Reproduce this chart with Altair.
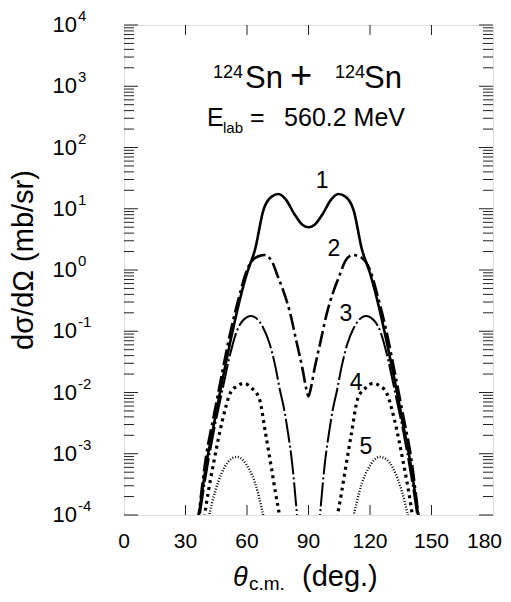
import altair as alt
import pandas as pd

# ---- data ----
c1_theta = [34, 36.5, 40, 44, 48, 52, 56, 60, 64, 68, 72, 75.4, 79, 83, 87, 90,
            93, 97, 101, 104.6, 108, 112, 116, 120, 124, 128, 132, 136, 140, 143.5, 146]
c1_vals = [3.2e-5, 1.0e-4, 6.3e-4, 3.2e-3, 1.6e-2, 7.1e-2, 0.28, 0.89, 2.2, 9.5, 15.8, 17.4, 14.1, 8.3, 5.5, 5.0,
           5.5, 8.3, 14.1, 17.4, 15.8, 9.5, 2.2, 0.89, 0.28, 7.1e-2, 1.6e-2, 3.2e-3, 6.3e-4, 1.0e-4, 3.2e-5]

c2_theta = [34, 36, 40, 44, 48, 52, 56, 60, 64, 68.5, 72, 75, 77.6, 81, 84, 87, 89, 90,
            91, 93, 96, 99, 102.4, 105, 108, 111.5, 116, 120, 124, 128, 132, 136, 140, 144, 146]
c2_vals = [2.5e-5, 7.9e-5, 8.9e-4, 4.5e-3, 2.2e-2, 0.10, 0.35, 1.0, 1.58, 1.76, 1.41, 0.79, 0.47, 0.20, 7.1e-2, 2.5e-2, 1.12e-2, 8.7e-3,
           1.12e-2, 2.5e-2, 7.1e-2, 0.20, 0.47, 0.79, 1.41, 1.76, 1.58, 1.0, 0.35, 0.10, 2.2e-2, 4.5e-3, 8.9e-4, 7.9e-5, 2.5e-5]

c3_theta = [35, 37, 40, 44, 48, 52, 55, 58, 62, 65, 68, 71, 74, 76, 78, 80, 82, 84, 85.5, 90,
            94.5, 96, 98, 100, 102, 104, 106, 109, 112, 115, 118, 122, 125, 128, 132, 136, 140, 143, 145]
c3_vals = [3.2e-5, 1.0e-4, 4.5e-4, 2.5e-3, 1.1e-2, 4.5e-2, 0.10, 0.15, 0.178, 0.158, 0.112, 6.3e-2, 2.5e-2, 1.12e-2, 5.6e-3, 2.2e-3, 7.1e-4, 1.4e-4, 3.2e-5, 1e-6,
           3.2e-5, 1.4e-4, 7.1e-4, 2.2e-3, 5.6e-3, 1.12e-2, 2.5e-2, 6.3e-2, 0.112, 0.158, 0.178, 0.15, 0.10, 4.5e-2, 1.1e-2, 2.5e-3, 4.5e-4, 1.0e-4, 3.2e-5]

c4_theta = [37, 38.5, 40, 44, 48, 52, 55, 58.5, 62, 66, 69, 72, 74, 76, 78, 90,
            102, 104, 106, 108, 111, 114, 118, 121.5, 125, 128, 132, 136, 140, 141.5, 143]
c4_vals = [3.2e-5, 6.3e-5, 1.4e-4, 7.9e-4, 3.5e-3, 1.0e-2, 1.26e-2, 1.41e-2, 1.2e-2, 7.9e-3, 2.2e-3, 5.6e-4, 2.2e-4, 8.9e-5, 2.0e-5, 1e-6,
           2.0e-5, 8.9e-5, 2.2e-4, 5.6e-4, 2.2e-3, 7.9e-3, 1.2e-2, 1.41e-2, 1.26e-2, 1.0e-2, 3.5e-3, 7.9e-4, 1.4e-4, 6.3e-5, 3.2e-5]

c5_theta = [40, 41, 43, 46, 49, 52, 55.3, 58, 61, 64, 66.5, 68.5, 70, 90,
            110, 111.5, 113.5, 116, 119, 122, 124.7, 128, 131, 134, 137, 139, 140]
c5_vals = [5.0e-5, 7.9e-5, 1.6e-4, 3.5e-4, 6.0e-4, 8.1e-4, 8.9e-4, 7.9e-4, 5.6e-4, 3.3e-4, 1.6e-4, 7.9e-5, 4.0e-5, 1e-6,
           4.0e-5, 7.9e-5, 1.6e-4, 3.3e-4, 5.6e-4, 7.9e-4, 8.9e-4, 8.1e-4, 6.0e-4, 3.5e-4, 1.6e-4, 7.9e-5, 5.0e-5]

curve_names = ["1", "2", "3", "4", "5"]
label_theta = [96.6, 102.4, 108.3, 113.2, 118.0]
label_vals = [28, 2.2, 0.19, 0.0145, 1.3e-3]

x_ticks = [0, 30, 60, 90, 120, 150, 180]
x_tick_labels = ["0", "30", "60", "90", "120", "150", "180"]
decades = [1e-4, 1e-3, 1e-2, 1e-1, 1e0, 1e1, 1e2, 1e3, 1e4]
decade_exp = ["-4", "-3", "-2", "-1", "0", "1", "2", "3", "4"]
minor_ticks = [m * d for d in decades[:-1] for m in range(2, 10)]

# ---- layout ----
W, H = 369, 490
FONT = "Liberation Sans"

xscale = alt.Scale(domain=[0, 180], nice=False, zero=False)
yscale = alt.Scale(type="log", domain=[1e-4, 1e4], nice=False)

styles = [
    dict(strokeWidth=2.6),
    dict(strokeWidth=2.6, strokeDash=[16, 4, 3, 4]),
    dict(strokeWidth=2.0, strokeDash=[24, 3, 2, 3]),
    dict(strokeWidth=3.2, strokeDash=[3, 4]),
    dict(strokeWidth=2.4, strokeDash=[1, 1.8]),
]
series = [(c1_theta, c1_vals), (c2_theta, c2_vals), (c3_theta, c3_vals),
          (c4_theta, c4_vals), (c5_theta, c5_vals)]

X = lambda f: alt.X(f, scale=xscale, axis=None)
Y = lambda f: alt.Y(f, scale=yscale, axis=None)

layers = []
for (th, v), st in zip(series, styles):
    df = pd.DataFrame({"theta": th, "val": v})
    layers.append(
        alt.Chart(df).mark_line(color="black", clip=True, interpolate="monotone", **st).encode(
            x=X("theta:Q"), y=Y("val:Q"))
    )

# inside ticks
ytick_major = pd.DataFrame({"v": decades})
ytick_minor = pd.DataFrame({"v": minor_ticks})
xtick_df = pd.DataFrame({"v": x_ticks[1:-1]})
tick_color = "#222"
for df, L in [(ytick_major, 14), (ytick_minor, 10)]:
    layers.append(alt.Chart(df).mark_rule(color=tick_color, strokeWidth=1).encode(
        y=Y("v:Q"), x=alt.value(0), x2=alt.value(L)))
    layers.append(alt.Chart(df).mark_rule(color=tick_color, strokeWidth=1).encode(
        y=Y("v:Q"), x=alt.value(W - L), x2=alt.value(W)))
layers.append(alt.Chart(xtick_df).mark_rule(color=tick_color, strokeWidth=1).encode(
    x=X("v:Q"), y=alt.value(0), y2=alt.value(10)))
layers.append(alt.Chart(xtick_df).mark_rule(color=tick_color, strokeWidth=1).encode(
    x=X("v:Q"), y=alt.value(H - 10), y2=alt.value(H)))

# x tick labels (last one nudged so it stays inside the page)
xlab = pd.DataFrame({"v": x_ticks[:-1], "lab": x_tick_labels[:-1]})
xlab_last = pd.DataFrame({"v": x_ticks[-1:], "lab": x_tick_labels[-1:]})
layers.append(alt.Chart(xlab).mark_text(align="center", baseline="middle", fontSize=21, font=FONT, color="black").encode(
    x=X("v:Q"), y=alt.value(H + 27), text="lab:N"))
layers.append(alt.Chart(xlab_last).mark_text(align="right", baseline="middle", fontSize=21, font=FONT, color="black", dx=9).encode(
    x=X("v:Q"), y=alt.value(H + 27), text="lab:N"))

# y tick labels 10^n
ylab = pd.DataFrame({"v": decades, "exp": decade_exp, "base": ["10"] * len(decades)})
layers.append(alt.Chart(ylab).mark_text(align="right", baseline="middle", fontSize=22, font=FONT, color="black").encode(
    y=Y("v:Q"), x=alt.value(-47), text="base:N"))
layers.append(alt.Chart(ylab).mark_text(align="left", baseline="middle", fontSize=15, font=FONT, color="black", dy=-9).encode(
    y=Y("v:Q"), x=alt.value(-46), text="exp:N"))

# curve labels
cl = pd.DataFrame({"theta": label_theta, "val": label_vals, "name": curve_names})
layers.append(alt.Chart(cl).mark_text(align="center", baseline="middle", fontSize=23, font=FONT, color="black").encode(
    x=X("theta:Q"), y=Y("val:Q"), text="name:N"))

# free text pieces (pixel placement within plot area)
def txt(t, x, y, size, align="left", baseline="alphabetic", angle=0, style="normal"):
    kw = dict(align=align, baseline=baseline, fontSize=size, font=FONT, color="black", fontStyle=style)
    if angle:
        kw["angle"] = angle
    return alt.Chart(pd.DataFrame({"t": [t]})).mark_text(**kw).encode(
        x=alt.value(x), y=alt.value(y), text="t:N")

layers += [
    txt("124", 89, 53, 18),
    txt("Sn", 121, 63, 31),
    txt("+", 177, 63, 38, align="center"),
    txt("124", 211, 53, 18),
    txt("Sn", 278, 63, 31, align="right"),
    txt("E", 83, 101, 25),
    txt("lab", 99, 108, 15),
    txt("=", 126, 101, 25),
    txt("560.2 MeV", 281, 101, 25, align="right"),
    txt("dσ/dΩ  (mb/sr)", -100, 235, 29, align="center", baseline="middle", angle=270),
    txt("θ", 109, 561, 27, style="italic"),
    txt("c.m.", 125, 565, 19),
    txt("(deg.)", 178, 561, 29),
]

chart = alt.layer(*layers).properties(
    width=W, height=H,
    autosize=alt.AutoSizeParams(type="none"),
    padding={"left": 116, "top": 17, "right": 10, "bottom": 79},
).configure_view(stroke="#222", strokeWidth=1.2).configure(background="white")

chart.save("out.html", embed_options={"renderer": "svg", "actions": False})
